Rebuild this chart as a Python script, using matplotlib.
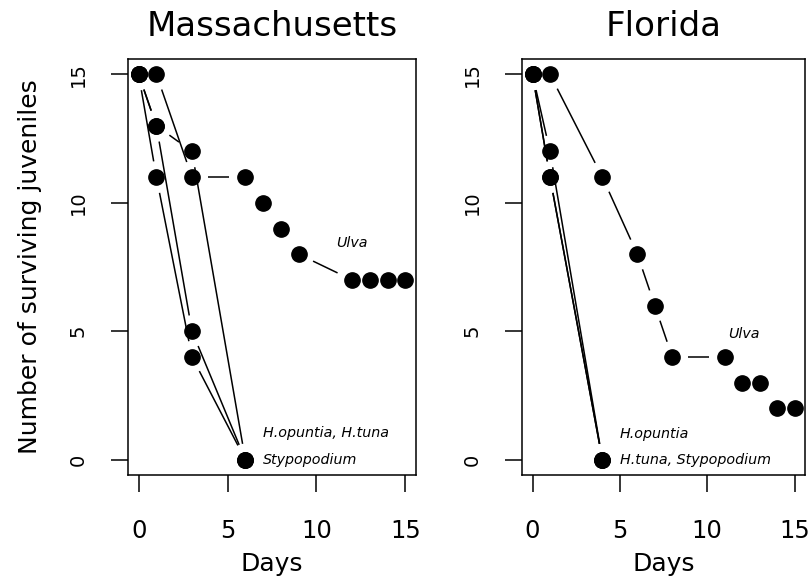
import numpy as np
import matplotlib
matplotlib.use('Agg')
import matplotlib.pyplot as plt

plt.rcParams['font.family'] = ['DejaVu Sans']

# ---------------------------------------------------------------
# Data
# ---------------------------------------------------------------
ma_days_ulva = [0, 1, 3, 6, 7, 8, 9, 12, 13, 14, 15]
ma_ulva = [15, 15, 11, 11, 10, 9, 8, 7, 7, 7, 7]
ma_days = [0, 1, 3, 6]
ma_hopuntia = [15, 13, 12, 0]
ma_htuna = [15, 13, 5, 0]
ma_stypo = [15, 11, 4, 0]

fl_days_ulva = [0, 1, 4, 6, 7, 8, 11, 12, 13, 14, 15]
fl_ulva = [15, 15, 11, 8, 6, 4, 4, 3, 3, 2, 2]
fl_days = [0, 1, 4]
fl_hopuntia = [15, 12, 0]
fl_htuna = [15, 11, 0]
fl_stypo = [15, 11, 0]

ticks = [0, 5, 10, 15]
GAP = 16  # pixels between point centre and line end (like R type="b")


def gapped_line(ax, x, y):
    # draw segments between points, stopping short of each point
    pts = ax.transData.transform(np.column_stack([x, y]))
    inv = ax.transData.inverted()
    for p0, p1 in zip(pts[:-1], pts[1:]):
        d = p1 - p0
        L = np.hypot(*d)
        if L <= 2 * GAP:
            continue
        u = d / L
        a = inv.transform(p0 + u * GAP)
        b = inv.transform(p1 - u * GAP)
        ax.plot([a[0], b[0]], [a[1], b[1]], color='black', lw=1.1,
                solid_capstyle='butt')
    ax.plot(x, y, 'o', color='black', ms=11, mec='black', zorder=3)


def setup(ax, title):
    ax.set_xlim(-0.6, 15.6)
    ax.set_ylim(-0.6, 15.6)
    ax.set_xticks(ticks)
    ax.set_yticks(ticks)
    ax.tick_params(axis='x', length=12, width=1.1, pad=20, labelsize=17.5)
    ax.tick_params(axis='y', length=12, width=1.1, pad=17, labelsize=14)
    for lab in ax.get_yticklabels():
        lab.set_rotation(90)
        lab.set_va('center')
    for s in ax.spines.values():
        s.set_linewidth(1.1)
    ax.set_xlabel('Days', fontsize=18)
    ax.xaxis.set_label_coords(0.5, -0.185)
    ax.text(0.5, 1.078, title, transform=ax.transAxes, ha='center',
            va='center', fontsize=24.5)


fig = plt.figure(figsize=(8.12, 5.82), dpi=100)
ax1 = fig.add_axes([0.1576, 0.1838, 0.3547, 0.7148])
ax2 = fig.add_axes([0.6429, 0.1838, 0.3485, 0.7148])

setup(ax1, 'Massachusetts')
setup(ax2, 'Florida')
ax1.set_ylabel('Number of surviving juveniles', fontsize=18)
ax1.yaxis.set_label_coords(-0.30, 0.5)

# Massachusetts
gapped_line(ax1, ma_days_ulva, ma_ulva)
for vals in (ma_hopuntia, ma_htuna, ma_stypo):
    gapped_line(ax1, ma_days, vals)
ax1.text(12.0, 8.45, 'Ulva', style='italic', fontsize=10.3, ha='center', va='center')
ax1.text(7.0, 1.05, 'H.opuntia, H.tuna', style='italic', fontsize=10.3, va='center')
ax1.text(7.0, 0.0, 'Stypopodium', style='italic', fontsize=10.3, va='center')

# Florida
gapped_line(ax2, fl_days_ulva, fl_ulva)
for vals in (fl_hopuntia, fl_htuna, fl_stypo):
    gapped_line(ax2, fl_days, vals)
ax2.text(12.1, 4.9, 'Ulva', style='italic', fontsize=10.3, ha='center', va='center')
ax2.text(5.0, 1.0, 'H.opuntia', style='italic', fontsize=10.3, va='center')
ax2.text(5.0, 0.0, 'H.tuna, Stypopodium', style='italic', fontsize=10.3, va='center')

fig.savefig('out.png', dpi=100)
